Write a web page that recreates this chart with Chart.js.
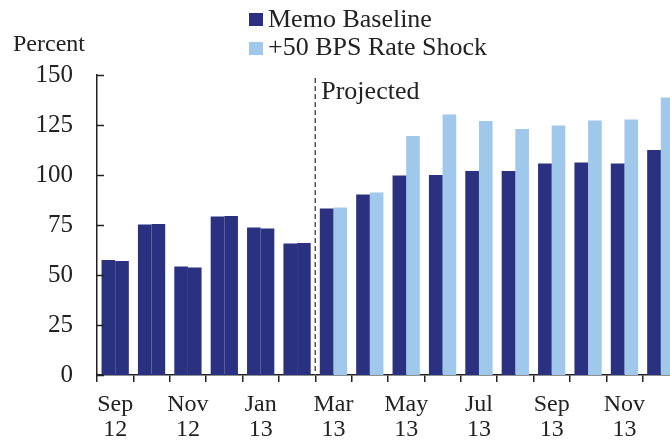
<!DOCTYPE html>
<html>
<head>
<meta charset="utf-8">
<script src="https://cdn.jsdelivr.net/npm/chart.js@4.4.1/dist/chart.umd.min.js"></script>
<style>
  html, body { margin: 0; padding: 0; background: #fff; overflow: hidden; }
  #wrap { position: absolute; left: 0; top: 0; width: 700px; height: 445px; }
</style>
</head>
<body>
<div id="wrap"><canvas id="chart" width="700" height="445"></canvas></div>
<script>
// months Sep 12 .. Dec 13
const months = ['Sep 12', 'Oct 12', 'Nov 12', 'Dec 12', 'Jan 13', 'Feb 13', 'Mar 13', 'Apr 13',
                'May 13', 'Jun 13', 'Jul 13', 'Aug 13', 'Sep 13', 'Oct 13', 'Nov 13', 'Dec 13'];
const tickLabels = [['Sep', '12'], '', ['Nov', '12'], '', ['Jan', '13'], '', ['Mar', '13'], '',
                    ['May', '13'], '', ['Jul', '13'], '', ['Sep', '13'], '', ['Nov', '13'], ''];
const baseline = [57.5, 75.3, 54.2, 79.2, 73.8, 65.8, 83.3, 90.3, 99.7, 100.0, 102.0, 102.0, 105.8, 106.3, 105.7, 112.5];
const rateShock = [57.0, 75.5, 53.8, 79.5, 73.3, 66.0, 83.8, 91.3, 119.5, 130.3, 127.0, 123.0, 124.8, 127.3, 127.8, 138.8];
const projectedFrom = 6; // index of Mar 13
const yTicks = [0, 25, 50, 75, 100, 125, 150];

const DARK = '#2a3180';
const LIGHT = '#a0c8ea';
const FONT = '"Liberation Serif", "Times New Roman", serif';

const overlay = {
  id: 'overlay',
  afterDraw(chart) {
    const { ctx, scales: { x, y } } = chart;
    ctx.save();
    // inward ticks on y axis
    ctx.strokeStyle = '#222';
    ctx.lineWidth = 1.5;
    yTicks.forEach(v => {
      const py = Math.round(y.getPixelForValue(v)) + 0.5;
      ctx.beginPath();
      ctx.moveTo(x.left, py);
      ctx.lineTo(x.left + 7, py);
      ctx.stroke();
    });
    // projected divider
    const px = (x.getPixelForValue(projectedFrom - 1) + x.getPixelForValue(projectedFrom)) / 2;
    ctx.strokeStyle = '#555';
    ctx.lineWidth = 1.5;
    ctx.setLineDash([5, 3]);
    ctx.beginPath();
    ctx.moveTo(px, y.getPixelForValue(148.5));
    ctx.lineTo(px, y.bottom);
    ctx.stroke();
    ctx.setLineDash([]);
    ctx.fillStyle = '#222';
    ctx.textBaseline = 'alphabetic';
    ctx.font = '26px ' + FONT;
    ctx.fillText('Projected', px + 6, 99);
    // y unit
    ctx.font = '24px ' + FONT;
    ctx.fillText('Percent', 13, 51);
    // legend
    ctx.font = '26px ' + FONT;
    ctx.fillStyle = DARK;
    ctx.fillRect(249, 13, 14, 13);
    ctx.fillStyle = LIGHT;
    ctx.fillRect(249, 42, 14, 13);
    ctx.fillStyle = '#222';
    ctx.fillText('Memo Baseline', 268, 27);
    ctx.fillText('+50 BPS Rate Shock', 268, 55);
    ctx.restore();
  }
};

new Chart(document.getElementById('chart'), {
  type: 'bar',
  data: {
    labels: months,
    datasets: [
      { label: 'Memo Baseline', data: baseline, backgroundColor: DARK },
      { label: '+50 BPS Rate Shock', data: rateShock,
        backgroundColor: rateShock.map((_, i) => i < projectedFrom ? DARK : LIGHT) }
    ]
  },
  options: {
    responsive: false,
    animation: false,
    events: [],
    categoryPercentage: 0.75,
    barPercentage: 1.0,
    layout: { padding: { left: 0, right: 21, top: 75, bottom: 0 } },
    plugins: { legend: { display: false }, tooltip: { enabled: false } },
    scales: {
      x: {
        offset: true,
        grid: { offset: true, drawOnChartArea: false, tickLength: 7, color: '#222', lineWidth: 1.5 },
        border: { display: true, color: '#222', width: 1.5 },
        ticks: {
          autoSkip: false, maxRotation: 0, padding: 10, color: '#222',
          font: { family: FONT, size: 24, lineHeight: 1.05 },
          callback: (v, i) => tickLabels[i]
        },
        afterFit: s => { s.height = 70; }
      },
      y: {
        min: 0, max: 150,
        afterBuildTicks: s => { s.ticks = yTicks.map(v => ({ value: v })); },
        grid: { display: false, drawTicks: false },
        border: { display: true, color: '#222', width: 1.5 },
        ticks: { padding: 24, color: '#222', font: { family: FONT, size: 25 } },
        afterFit: s => { s.width = 97; }
      }
    }
  },
  plugins: [overlay]
});
</script>
</body>
</html>
